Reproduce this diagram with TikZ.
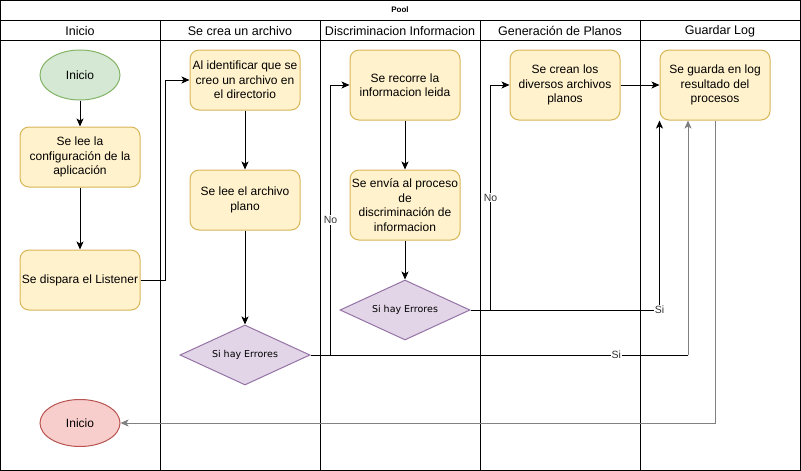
\documentclass[tikz,border=0pt]{standalone}
\usepackage{fontspec}
\setmainfont{Liberation Sans}
\newfontfamily\diafont{DejaVu Sans}
\usetikzlibrary{positioning, arrows.meta, shapes.geometric}
\definecolor{pyellow}{HTML}{FFF2CC}
\definecolor{pgold}{HTML}{D6B656}
\definecolor{pgreen}{HTML}{D5E8D4}
\definecolor{pgreenline}{HTML}{82B366}
\definecolor{pred}{HTML}{F8CECC}
\definecolor{predline}{HTML}{B85450}
\definecolor{plilac}{HTML}{E1D5E7}
\definecolor{plilacline}{HTML}{9673A6}
\definecolor{pgrey}{HTML}{808080}

\begin{document}
\begin{tikzpicture}[x=1pt, y=-1pt, line width=1pt,
        box/.style={draw=pgold, fill=pyellow, rounded corners=9pt, minimum width=110pt, minimum height=60pt,
            inner sep=0pt, align=center, font=\fontsize{12}{14.5}\selectfont},
        start/.style={ellipse, draw=pgreenline, fill=pgreen, minimum width=80pt, minimum height=50pt,
            inner sep=0pt, font=\fontsize{12}{14.5}\selectfont},
        stop/.style={ellipse, draw=predline, fill=pred, minimum width=80pt, minimum height=47pt,
            inner sep=0pt, font=\fontsize{12}{14.5}\selectfont},
        decision/.style={diamond, aspect=2.17, draw=plilacline, fill=plilac, minimum width=130pt, minimum height=60pt,
            inner sep=0pt, font=\diafont\fontsize{9.5}{11}\selectfont},
        lanehead/.style={font=\fontsize{12.5}{14}\selectfont},
        lbl/.style={fill=white, inner sep=1pt, text=black!80, font=\fontsize{10.5}{11}\selectfont},
        flow/.style={-{Stealth[length=8pt, width=7pt, inset=2pt]}}]
        \useasboundingbox (0,0) rectangle (801,471);

        % pool and lanes
        \draw (0.5,0.5) rectangle (800,470);
        \draw (0.5,20) -- (800,20);
        \draw (0.5,40) -- (800,40);
        \foreach \x in {160,320,480,640}
        {
            \draw (\x,20) -- (\x,470);
        }
        \node[font=\bfseries\fontsize{8}{9}\selectfont] (pool) at (400,10) {Pool};
        \node[lanehead] (hini) at (80,31) {Inicio};
        \node[lanehead] (hcrea) at (240,31) {Se crea un archivo};
        \node[lanehead] (hdis) at (400,31) {Discriminacion Informacion};
        \node[lanehead] (hgen) at (560,31) {Generación de Planos};
        \node[lanehead] (hlog) at (720,31) {Guardar Log};

        % steps
        \node[start] (ini) at (80,75) {Inicio};
        \node[box, minimum width=120pt] (conf) at (80,157) {Se lee la\\configuración de la\\aplicación};
        \node[box, minimum width=120pt] (lis) at (80,280) {Se dispara el Listener};
        \node[box] (ide) at (245,80) {Al identificar que se\\creo un archivo en\\el directorio};
        \node[box] (lee) at (245,200) {Se lee el archivo\\plano};
        \node[decision] (err1) at (245,355) {Si hay Errores};
        \node[box, minimum height=70pt] (rec) at (405,85) {Se recorre la\\informacion leida};
        \node[box, minimum height=70pt] (env) at (405,205) {Se envía al proceso\\de\\discriminación de\\informacion};
        \node[decision] (err2) at (405,310) {Si hay Errores};
        \node[box, minimum height=70pt] (pla) at (565,85) {Se crean los\\diversos archivos\\planos};
        \node[box, minimum height=70pt] (log) at (715,85) {Se guarda en log\\resultado del\\procesos};
        \node[stop] (fin) at (80,423) {Inicio};

        % connectors
        \draw[flow] (ini) -- (conf);
        \draw[flow] (conf) -- (lis);
        \draw[flow] (lis.east) -- ++(25,0) |- (ide.west);
        \draw[flow] (ide) -- (lee);
        \draw[flow] (lee) -- (err1);
        \draw[flow] (err1.east) -- ++(20,0) |- node[pos=0.25, lbl] {No} (rec.west);
        \coordinate (r1) at (688,355);
        \draw (err1.east) -- node[pos=0.81, lbl] {Si} (r1);
        \draw[flow, draw=pgrey] (r1) -- (r1 |- log.south);
        \draw[flow] (rec) -- (env);
        \draw[flow] (env) -- (err2);
        \draw[flow] (err2.east) -- ++(20,0) |- node[pos=0.25, lbl] {No} (pla.west);
        \draw[flow] (err2.east) -| node[pos=0.5, lbl] {Si} (log.south west);
        \draw[flow] (pla) -- (log);
        \draw[flow, draw=pgrey] (log.south) |- (fin.east);
\end{tikzpicture}
\end{document}
